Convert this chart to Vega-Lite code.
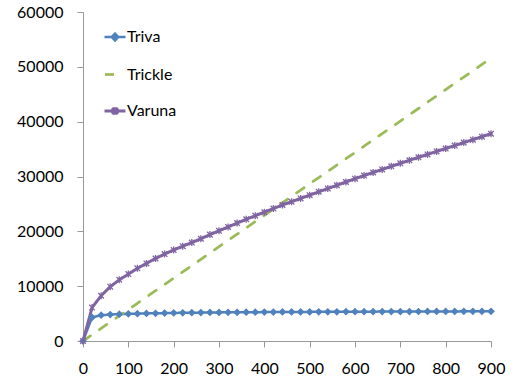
{
  "$schema": "https://vega.github.io/schema/vega-lite/v6.json",
  "width": 408,
  "height": 329,
  "autosize": "none",
  "padding": {"left": 83, "top": 12, "right": 24, "bottom": 41},
  "background": "white",
  "config": {
    "view": {"stroke": null},
    "font": "Lato",
    "axis": {
      "labelFont": "Lato",
      "labelFontSize": 16,
      "labelColor": "#000000",
      "domainColor": "#999999",
      "tickColor": "#999999",
      "tickSize": 6,
      "grid": false,
      "title": null
    }
  },
  "data": {
    "values": [
      {"x": 0, "Triva": 0, "Trickle": 0, "Varuna": 0},
      {"x": 20, "Triva": 4300, "Trickle": 1150, "Varuna": 6100},
      {"x": 40, "Triva": 4700, "Trickle": 2290, "Varuna": 8250},
      {"x": 60, "Triva": 4830, "Trickle": 3440, "Varuna": 9900},
      {"x": 80, "Triva": 4900, "Trickle": 4590, "Varuna": 11150},
      {"x": 100, "Triva": 4950, "Trickle": 5730, "Varuna": 12200},
      {"x": 120, "Triva": 4990, "Trickle": 6880, "Varuna": 13250},
      {"x": 140, "Triva": 5030, "Trickle": 8020, "Varuna": 14150},
      {"x": 160, "Triva": 5060, "Trickle": 9170, "Varuna": 15050},
      {"x": 180, "Triva": 5090, "Trickle": 10320, "Varuna": 15850},
      {"x": 200, "Triva": 5120, "Trickle": 11460, "Varuna": 16600},
      {"x": 220, "Triva": 5140, "Trickle": 12610, "Varuna": 17300},
      {"x": 240, "Triva": 5160, "Trickle": 13750, "Varuna": 17950},
      {"x": 260, "Triva": 5180, "Trickle": 14900, "Varuna": 18650},
      {"x": 280, "Triva": 5200, "Trickle": 16050, "Varuna": 19400},
      {"x": 300, "Triva": 5220, "Trickle": 17190, "Varuna": 20100},
      {"x": 320, "Triva": 5230, "Trickle": 18340, "Varuna": 20800},
      {"x": 340, "Triva": 5240, "Trickle": 19480, "Varuna": 21500},
      {"x": 360, "Triva": 5250, "Trickle": 20630, "Varuna": 22200},
      {"x": 380, "Triva": 5260, "Trickle": 21780, "Varuna": 22850},
      {"x": 400, "Triva": 5270, "Trickle": 22920, "Varuna": 23500},
      {"x": 420, "Triva": 5280, "Trickle": 24070, "Varuna": 24150},
      {"x": 440, "Triva": 5290, "Trickle": 25210, "Varuna": 24800},
      {"x": 460, "Triva": 5300, "Trickle": 26360, "Varuna": 25400},
      {"x": 480, "Triva": 5305, "Trickle": 27510, "Varuna": 26000},
      {"x": 500, "Triva": 5310, "Trickle": 28650, "Varuna": 26600},
      {"x": 520, "Triva": 5320, "Trickle": 29800, "Varuna": 27200},
      {"x": 540, "Triva": 5325, "Trickle": 30940, "Varuna": 27800},
      {"x": 560, "Triva": 5330, "Trickle": 32090, "Varuna": 28400},
      {"x": 580, "Triva": 5340, "Trickle": 33240, "Varuna": 29000},
      {"x": 600, "Triva": 5345, "Trickle": 34380, "Varuna": 29600},
      {"x": 620, "Triva": 5350, "Trickle": 35530, "Varuna": 30170},
      {"x": 640, "Triva": 5355, "Trickle": 36670, "Varuna": 30730},
      {"x": 660, "Triva": 5360, "Trickle": 37820, "Varuna": 31290},
      {"x": 680, "Triva": 5365, "Trickle": 38970, "Varuna": 31850},
      {"x": 700, "Triva": 5370, "Trickle": 40110, "Varuna": 32400},
      {"x": 720, "Triva": 5375, "Trickle": 41260, "Varuna": 32950},
      {"x": 740, "Triva": 5380, "Trickle": 42400, "Varuna": 33490},
      {"x": 760, "Triva": 5385, "Trickle": 43550, "Varuna": 34030},
      {"x": 780, "Triva": 5390, "Trickle": 44700, "Varuna": 34570},
      {"x": 800, "Triva": 5395, "Trickle": 45840, "Varuna": 35100},
      {"x": 820, "Triva": 5400, "Trickle": 46990, "Varuna": 35640},
      {"x": 840, "Triva": 5405, "Trickle": 48130, "Varuna": 36180},
      {"x": 860, "Triva": 5410, "Trickle": 49280, "Varuna": 36720},
      {"x": 880, "Triva": 5415, "Trickle": 50430, "Varuna": 37260},
      {"x": 900, "Triva": 5420, "Trickle": 51570, "Varuna": 37800}
    ]
  },
  "transform": [
    {"fold": ["Triva", "Trickle", "Varuna"], "as": ["series", "value"]}
  ],
  "encoding": {
    "x": {
      "field": "x",
      "type": "quantitative",
      "scale": {"domain": [0, 900], "nice": false, "zero": true},
      "axis": {"values": [0, 100, 200, 300, 400, 500, 600, 700, 800, 900], "format": "d", "labelPadding": 13, "labelFlush": false}
    },
    "y": {
      "field": "value",
      "type": "quantitative",
      "scale": {"domain": [0, 60000], "nice": false},
      "axis": {"values": [0, 10000, 20000, 30000, 40000, 50000, 60000], "format": "d", "labelPadding": 14}
    }
  },
  "layer": [
    {
      "mark": {"type": "line", "strokeCap": "round", "strokeJoin": "round"},
      "encoding": {
        "color": {
          "field": "series",
          "type": "nominal",
          "scale": {"domain": ["Triva", "Trickle", "Varuna"], "range": ["#4F81BD", "#9BBB59", "#8064A2"]},
          "legend": {
            "title": null,
            "orient": "none",
            "legendX": 20,
            "legendY": 13,
            "padding": 0,
            "symbolType": "stroke",
            "symbolSize": 441,
            "symbolStrokeWidth": 2.5,
            "labelFont": "Lato",
            "labelFontSize": 16,
            "labelColor": "#000000",
            "labelOffset": 0,
            "rowPadding": 16.5,
            "encode": {
              "symbols": {
                "update": {
                  "shape": {"signal": "datum.value === 'Triva' ? 'M-1,0H1M0,-0.32L0.32,0L0,0.32L-0.32,0Z' : datum.value === 'Trickle' ? 'M-0.95,0H0.25' : 'M-1,0H1M-0.28,-0.28L0.28,0.28M-0.28,0.28L0.28,-0.28M0,-0.36V0.36'"},
                  "fill": {"signal": "datum.value === 'Triva' ? '#4F81BD' : 'transparent'"},
                  "strokeWidth": {"signal": "datum.value === 'Trickle' ? 3 : 2.5"}
                }
              }
            }
          }
        },
        "strokeDash": {
          "field": "series",
          "type": "nominal",
          "scale": {"domain": ["Triva", "Trickle", "Varuna"], "range": [[1, 0], [9, 11], [1, 0]]},
          "legend": null
        },
        "strokeWidth": {
          "field": "series",
          "type": "nominal",
          "scale": {"domain": ["Triva", "Trickle", "Varuna"], "range": [2.5, 3, 2.5]},
          "legend": null
        }
      }
    },
    {
      "transform": [{"filter": "datum.series === 'Triva'"}],
      "mark": {"type": "point", "shape": "diamond", "filled": true, "size": 60, "color": "#4F81BD", "opacity": 1}
    },
    {
      "transform": [{"filter": "datum.series === 'Varuna'"}],
      "mark": {"type": "point", "shape": "M-0.8,-0.8L0.8,0.8M-0.8,0.8L0.8,-0.8M0,-1V1", "filled": false, "size": 49, "strokeWidth": 1.3, "color": "#8064A2", "opacity": 1}
    }
  ]
}
